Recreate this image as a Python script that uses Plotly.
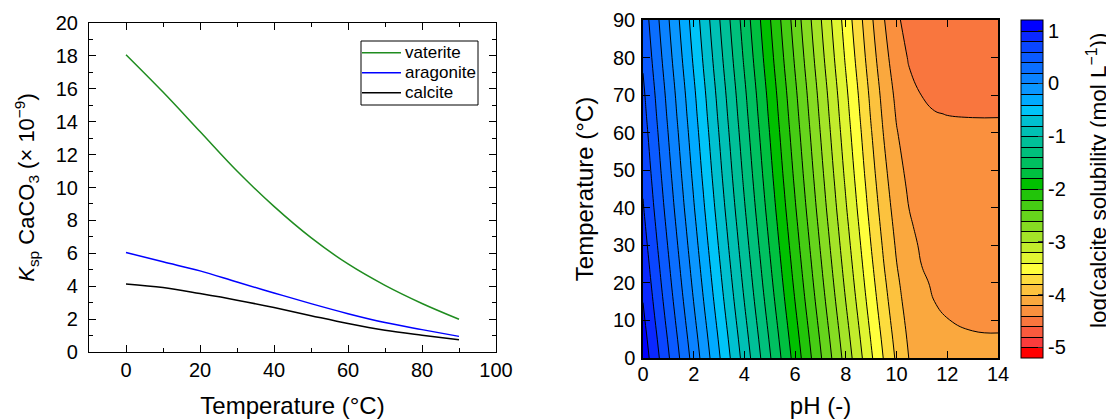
import plotly.graph_objects as go

########################
# DATA
########################

# Left panel: solubility products of CaCO3 polymorphs (x 1e-9) vs temperature
TEMP_KSP = [0, 10, 20, 30, 40, 50, 60, 70, 80, 90]
VATERITE = [18.07, 15.8, 13.4, 11.0, 8.85, 6.95, 5.35, 4.05, 2.95, 1.99]
ARAGONITE = [6.05, 5.48, 4.93, 4.25, 3.59, 2.94, 2.33, 1.79, 1.36, 0.95]
CALCITE = [4.14, 3.92, 3.55, 3.15, 2.70, 2.21, 1.73, 1.32, 1.02, 0.75]
SERIES = ["vaterite", "aragonite", "calcite"]

# Right panel: log(calcite solubility) on a pH x temperature grid
PH = [0, 4, 8, 9, 9.5, 10, 10.5, 11, 11.5, 12, 13, 14]
TEMP_GRID = [0, 5, 10, 15, 20, 25, 30, 35, 40, 45, 50, 60, 65, 70, 80, 90]
LOG_SOL = [
    [1.122, -0.879, -2.878, -3.373, -3.613, -3.832, -4.007, -4.115, -4.164, -4.182, -4.190, -4.191],
    [1.082, -0.919, -2.918, -3.413, -3.650, -3.865, -4.032, -4.130, -4.174, -4.189, -4.196, -4.197],
    [1.039, -0.961, -2.960, -3.454, -3.690, -3.900, -4.058, -4.148, -4.186, -4.199, -4.205, -4.206],
    [0.998, -1.003, -3.002, -3.495, -3.728, -3.934, -4.084, -4.166, -4.200, -4.212, -4.217, -4.218],
    [0.959, -1.042, -3.041, -3.533, -3.764, -3.965, -4.108, -4.184, -4.214, -4.225, -4.230, -4.230],
    [0.922, -1.079, -3.078, -3.569, -3.799, -3.996, -4.132, -4.203, -4.231, -4.240, -4.245, -4.245],
    [0.885, -1.115, -3.114, -3.604, -3.832, -4.025, -4.156, -4.221, -4.247, -4.256, -4.260, -4.260],
    [0.850, -1.150, -3.149, -3.638, -3.865, -4.054, -4.180, -4.242, -4.266, -4.274, -4.277, -4.278],
    [0.815, -1.185, -3.184, -3.672, -3.897, -4.083, -4.203, -4.262, -4.284, -4.291, -4.295, -4.295],
    [0.784, -1.217, -3.215, -3.703, -3.927, -4.110, -4.227, -4.283, -4.304, -4.312, -4.315, -4.315],
    [0.753, -1.248, -3.246, -3.734, -3.956, -4.136, -4.251, -4.305, -4.325, -4.332, -4.335, -4.335],
    [0.695, -1.305, -3.304, -3.790, -4.011, -4.189, -4.300, -4.351, -4.371, -4.377, -4.380, -4.380],
    [0.665, -1.335, -3.333, -3.820, -4.040, -4.217, -4.326, -4.377, -4.396, -4.402, -4.405, -4.405],
    [0.638, -1.363, -3.361, -3.847, -4.067, -4.243, -4.352, -4.402, -4.421, -4.427, -4.430, -4.430],
    [0.573, -1.428, -3.426, -3.912, -4.132, -4.308, -4.417, -4.467, -4.486, -4.492, -4.495, -4.495],
    [0.515, -1.485, -3.483, -3.970, -4.190, -4.367, -4.476, -4.527, -4.546, -4.552, -4.555, -4.555],
]

# One colour per 0.2-wide band, from -5.2 (bottom) to 1.2 (top)
BAND_COLORS = [
    "#ff0000", "#fa3c3c", "#fa5a3e", "#f9763e", "#fa903e", "#faa83e", "#fcc23e", "#fddc3e",
    "#ffff3c", "#e0f532", "#c2ec2c", "#a4e428", "#86dc22", "#66d41c", "#46cc14", "#22c40a",
    "#00c000", "#00c040", "#00c060", "#00c07c", "#00c098", "#00c0b4", "#00c0d0", "#00c4f8",
    "#00aaff", "#0a96ff", "#0a82ff", "#0a6eff", "#0a5aff", "#0a46ff", "#0a28ff", "#0000ff",
]
CBAR_TICKS = [1, 0, -1, -2, -3, -4, -5]
CBAR_LABELS = ["1", "0", "-1", "-2", "-3", "-4", "-5"]

########################
# LAYOUT HELPERS
########################

FONT = "Liberation Sans, Arial, sans-serif"
OFF = 8  # page body margin
FW, FH = 1114 - OFF, 419 - OFF
LINE_COLORS = {"vaterite": "#1f8c1f", "aragonite": "#0000ff", "calcite": "#000000"}


def fx(px):
    """page pixel x -> paper fraction"""
    return (px - OFF) / FW


def fy(py):
    """page pixel y (from top) -> paper fraction"""
    return 1 - (py - OFF) / FH


def make_axis(**kw):
    base = dict(
        showline=True, linecolor="black", linewidth=1.2, mirror="ticks",
        ticks="inside", ticklen=7, tickwidth=1.2, tickcolor="black",
        showgrid=False, zeroline=False, automargin=False,
        tickfont=dict(size=20, color="black"),
        title_font=dict(size=24, color="black"),
    )
    base.update(kw)
    return base


def add_box_legend(fig):
    """Legend box like the original (tight rows)"""
    fig.add_shape(type="rect", xref="paper", yref="paper",
                  x0=fx(361), x1=fx(478), y0=fy(105), y1=fy(41),
                  line=dict(color="black", width=1), fillcolor="white", layer="above")
    for i, name in enumerate(SERIES):
        yy = fy(52.7 + 20 * i)
        fig.add_shape(type="line", xref="paper", yref="paper",
                      x0=fx(362), x1=fx(401), y0=yy, y1=yy,
                      line=dict(color=LINE_COLORS[name], width=1.5), layer="above")
        fig.add_annotation(text=name, xref="paper", yref="paper", x=fx(403), y=yy,
                           xanchor="left", yanchor="middle", showarrow=False,
                           font=dict(size=17, color="black"))


def main():
    fig = go.Figure()

    for name, vals in zip(SERIES, [VATERITE, ARAGONITE, CALCITE]):
        fig.add_trace(go.Scatter(
            x=TEMP_KSP, y=vals, name=name, mode="lines",
            line=dict(color=LINE_COLORS[name], width=1.5, shape="spline"),
            xaxis="x", yaxis="y", showlegend=False,
        ))

    n = len(BAND_COLORS) - 1
    colorscale = [[i / n, c] for i, c in enumerate(BAND_COLORS)]

    fig.add_trace(go.Contour(
        x=PH, y=TEMP_GRID, z=LOG_SOL, xaxis="x2", yaxis="y2",
        colorscale=colorscale, zmin=-5.2, zmax=1.2, autocontour=False,
        contours=dict(start=-5.0, end=1.0, size=0.2, coloring="fill", showlines=True),
        line=dict(color="black", width=1, smoothing=1.3),
        showlegend=False, hoverinfo="skip",
        colorbar=dict(
            x=fx(1021), xanchor="left", xpad=0, ypad=0,
            y=fy(358), yanchor="bottom", len=338 / FH, lenmode="fraction",
            thickness=22, outlinewidth=1, outlinecolor="black",
            tickvals=CBAR_TICKS, ticktext=CBAR_LABELS,
            ticks="inside", ticklen=5, tickcolor="#333",
            tickfont=dict(size=20, color="black"),
        ),
    ))

    add_box_legend(fig)

    # colorbar title placed as rotated text
    fig.add_annotation(
        text="log(calcite solubility (mol L<sup>−1</sup>))", textangle=-90,
        xref="paper", yref="paper", x=fx(1097), y=fy(180),
        xanchor="center", yanchor="middle", showarrow=False,
        font=dict(size=22.5, color="black"),
    )

    fig.update_layout(
        width=FW, height=FH,
        margin=dict(l=0, r=0, t=0, b=0),
        paper_bgcolor="white", plot_bgcolor="white",
        font=dict(family=FONT, color="black"),
        showlegend=False,
        xaxis=make_axis(
            domain=[fx(89), fx(496)], anchor="y", range=[-10, 100], tick0=0, dtick=20,
            minor=dict(ticks="inside", ticklen=4, dtick=10, tickcolor="black", showgrid=False),
            ticklabelstandoff=0,
            title=dict(text="Temperature (°C)", standoff=22),
        ),
        yaxis=make_axis(
            domain=[fy(352), fy(23)], anchor="x", range=[0, 20], dtick=2,
            minor=dict(ticks="inside", ticklen=4, dtick=1, tickcolor="black", showgrid=False),
            ticklabelstandoff=6,
            title=dict(text="<i>K</i><sub>sp</sub> CaCO<sub>3</sub> (× 10<sup>−9</sup>)",
                       standoff=14, font=dict(size=22)),
        ),
        xaxis2=make_axis(
            domain=[fx(643), fx(998)], anchor="y2", range=[0, 14], dtick=2, linewidth=1.5,
            ticklabelstandoff=-3,
            title=dict(text="pH (-)", standoff=21),
        ),
        yaxis2=make_axis(
            domain=[fy(358), fy(20)], anchor="x2", range=[0, 90], dtick=10, linewidth=1.5,
            ticklabelstandoff=2,
            title=dict(text="Temperature (°C)", standoff=13),
        ),
    )

    fig.write_html("out.html")


if __name__ == "__main__":
    main()
